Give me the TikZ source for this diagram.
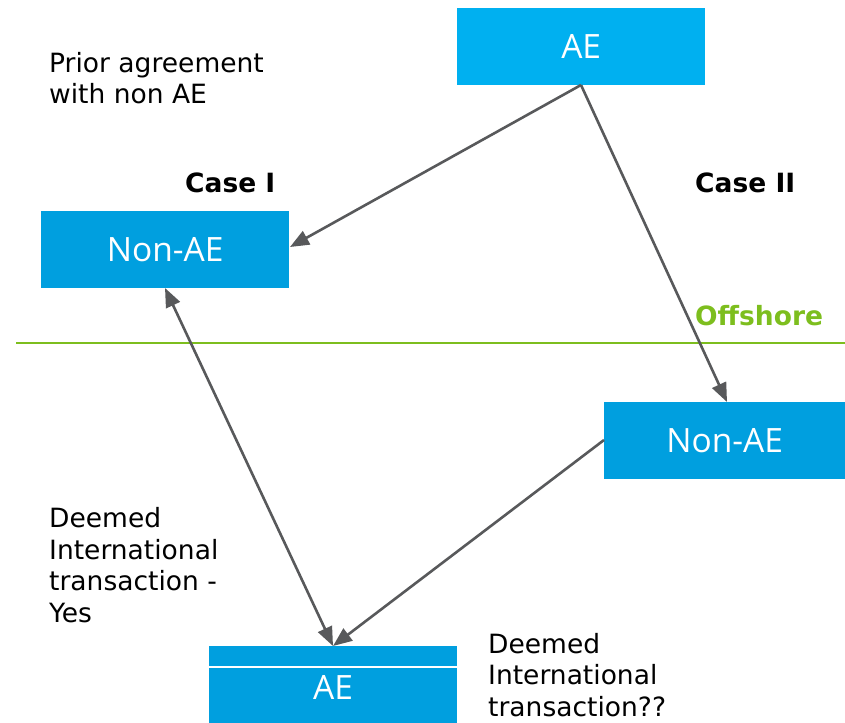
\documentclass[tikz,border=0pt]{standalone}
\usepackage{fontspec}
\setmainfont{DejaVu Sans}
\newfontfamily\boxfont{Open Sans}
\usetikzlibrary{arrows.meta}
\definecolor{topblue}{HTML}{00B0F0}
\definecolor{boxblue}{HTML}{009FDF}
\definecolor{linkgray}{HTML}{58595B}
\definecolor{shoregreen}{HTML}{7DBE1E}
\tikzset{
  boxtext/.style={font=\boxfont\fontsize{33.5}{36}\selectfont},
  entity/.style={fill=boxblue, draw=none, minimum width=248pt, minimum height=77pt,
    inner sep=0pt, text=white, boxtext},
  tip/.tip={Triangle[length=19pt,width=15pt]},
  link/.style={draw=linkgray, line width=2.6pt, -tip},
  twoway/.style={link, tip-tip},
  note/.style={align=left, anchor=base west, inner sep=0pt, text=black,
    font=\fontsize{26.5}{31.5}\selectfont},
  caselabel/.style={inner sep=0pt, font=\bfseries\fontsize{26.5}{30}\selectfont}
}
\begin{document}
\begin{tikzpicture}[x=1pt,y=-1pt]
\useasboundingbox (0,0) rectangle (845,722);

% entities
\node[entity, fill=topblue, anchor=north west] (topae) at (457,8) {AE};
\node[entity, anchor=north west] (leftna) at (41,211) {Non-AE};
\node[entity, anchor=north west, minimum width=241pt] (rightna) at (604,402) {Non-AE};
\node[entity, anchor=north west] (botae) at (209,646) {};
\node[text=white, boxtext] (botlabel) at (333,687) {AE};
\draw[white, line width=1.2pt] (botae.west |- 0,667) -- (botae.east |- 0,667);

% offshore boundary
\coordinate (shoreL) at (16,343);
\coordinate (shoreR) at (845,343);
\draw[shoregreen, line width=2.4pt] (shoreL) -- (shoreR);
\node[caselabel, text=shoregreen, anchor=west] (offshore) at (695,316) {Offshore};

% labels (anchored at the baseline of the last line)
\node[note] (prior) at (49,104) {Prior agreement\\with non AE};
\node[caselabel, anchor=west] (case1) at (185,183) {Case I};
\node[caselabel, anchor=west] (case2) at (695,183) {Case II};
\node[note] (deemed1) at (49,622) {Deemed\\International\\transaction -\\Yes};
\node[note] (deemed2) at (488,716) {Deemed\\International\\transaction??};

% connectors
\coordinate (topout) at (581,85);
\coordinate (leftin) at (290,247);
\coordinate (rightin) at (727,402);
\coordinate (leftbot) at (165,288);
\coordinate (botin) at (333,646);
\coordinate (rightout) at (604,440);
\draw[link] (topout) -- (leftin);
\draw[link] (topout) -- (rightin);
\draw[twoway] (leftbot) -- (botin);
\draw[link] (rightout) -- (botin);
\end{tikzpicture}
\end{document}
